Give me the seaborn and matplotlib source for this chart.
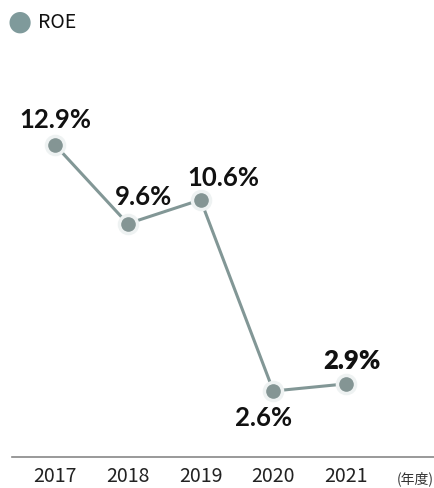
import matplotlib
matplotlib.use("Agg")
import matplotlib.pyplot as plt
import seaborn as sns
import pandas as pd

# data
years = ["2017", "2018", "2019", "2020", "2021"]
roe = [12.9, 9.6, 10.6, 2.6, 2.9]
labels = ["12.9%", "9.6%", "10.6%", "2.6%", "2.9%"]
# label offsets in pixels (dx, dy) from each point
label_dx = [0, 16, 23, -10, 6]
label_dy = [26, 28, 23, -26, 24]
label_weight = ["bold", "bold", "bold", "bold", "heavy"]

LINE = "#829796"
DOT = "#849594"

sns.set_style("white")
plt.rcParams["font.family"] = ["Lato", "Noto Sans CJK JP", "DejaVu Sans"]

df = pd.DataFrame({"x": range(len(years)), "roe": roe})

fig = plt.figure(figsize=(4.35, 4.89), dpi=100)
ax = fig.add_axes([12 / 435, 31 / 489, 423 / 435, 458 / 489])

sns.lineplot(data=df, x="x", y="roe", ax=ax, color=LINE, linewidth=2.2, zorder=2)
sns.scatterplot(data=df, x="x", y="roe", ax=ax, s=170, color=DOT,
                edgecolor="#eef2f2", linewidth=2.5, zorder=3)

for i, (v, lab) in enumerate(zip(roe, labels)):
    ax.annotate(lab, (i, v), xytext=(label_dx[i] * 0.72, label_dy[i] * 0.72),
                textcoords="offset points", ha="center", va="center",
                fontsize=18.5, fontweight=label_weight[i], color="#111111")

ax.set_xlim(-0.59, 5.22)
ax.set_ylim(-0.16, 19.0)
ax.set_xticks(range(len(years)))
ax.set_xticklabels(years, fontsize=14, color="#222222",
                   family=["Noto Sans CJK JP", "DejaVu Sans"])
ax.tick_params(axis="x", length=0, pad=6)
ax.set_yticks([])
ax.set_xlabel("")
ax.set_ylabel("")
for s in ["top", "right", "left"]:
    ax.spines[s].set_visible(False)
ax.spines["bottom"].set_color("#888888")
ax.spines["bottom"].set_linewidth(1.2)

fig.text(415 / 435, 1 - 479 / 489, "(年度)", ha="center", va="center",
         fontsize=10, color="#333333", family=["Noto Sans CJK JP", "DejaVu Sans"])

# legend
fig.text(20 / 435, 1 - 22 / 489, "●", ha="center", va="center", fontsize=20,
         color="#7f9a9b", family=["DejaVu Sans"])
fig.text(38 / 435, 1 - 22 / 489, "ROE", ha="left", va="center", fontsize=14,
         color="#111111", family=["Noto Sans CJK JP", "DejaVu Sans"])

fig.savefig("out.png", dpi=100)
